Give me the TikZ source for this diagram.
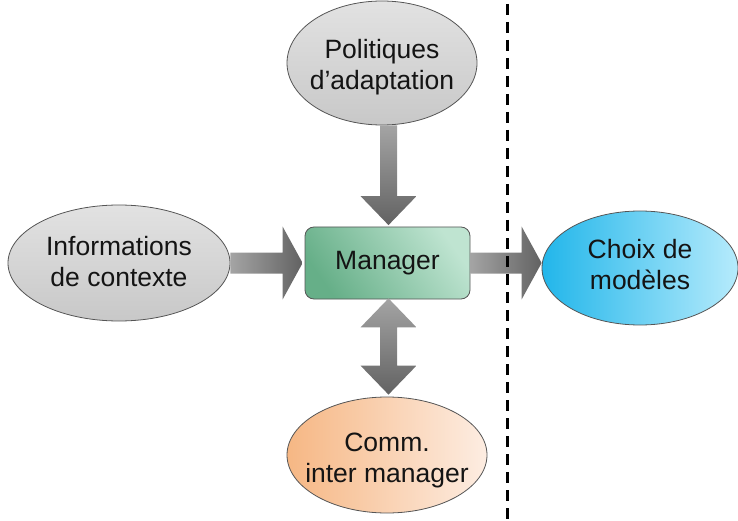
\documentclass[tikz,border=0pt]{standalone}
\usepackage{fontspec}
\setmainfont{Liberation Sans}
\usetikzlibrary{shapes.geometric,calc}
\definecolor{txt}{HTML}{141414}
\definecolor{edge}{HTML}{555555}
\definecolor{grayA}{HTML}{E2E2E2}
\definecolor{grayB}{HTML}{C8C8C8}
\definecolor{greenA}{HTML}{66AF88}
\definecolor{greenM}{HTML}{A8D6BE}
\definecolor{greenB}{HTML}{BFE4D1}
\definecolor{cyanA}{HTML}{22B6EA}
\definecolor{cyanB}{HTML}{B6EBFC}
\definecolor{orangeA}{HTML}{F6B784}
\definecolor{orangeB}{HTML}{FDEDE2}
\definecolor{arrA}{HTML}{A4A4A4}
\definecolor{arrB}{HTML}{626262}
\tikzset{
  ell/.style={ellipse, draw=edge, line width=0.8pt, inner sep=0pt},
  lbl/.style={font=\fontsize{26.5}{31}\selectfont, text=txt, align=center},
  mgrbox/.style={rectangle, rounded corners=9pt, draw=edge, line width=0.8pt,
    left color=greenA, middle color=greenM, right color=greenB, shading angle=125,
    font=\fontsize{26.5}{31}\selectfont, text=txt},
  harrow/.style={left color=arrA, right color=arrB},
  varrow/.style={top color=arrA, bottom color=arrB},
  sep/.style={dash pattern=on 11pt off 7pt, line width=3pt, black}
}
\begin{document}
\begin{tikzpicture}[x=1pt,y=-1pt]
\useasboundingbox (0,0) rectangle (738,521);

% nodes
\node[ell, top color=grayA, bottom color=grayB, minimum width=190pt, minimum height=124pt,
  label={[lbl, yshift=-4pt]center:{Politiques\\d'adaptation}}] (pol) at (382,63) {};
\node[ell, top color=grayA, bottom color=grayB, minimum width=222pt, minimum height=116pt,
  label={[lbl, yshift=1pt]center:{Informations\\de contexte}}] (info) at (119,263) {};
\node[mgrbox, minimum width=165pt, minimum height=72pt] (mgr) at (387.5,263) {Manager};
\node[ell, left color=cyanA, right color=cyanB, minimum width=196pt, minimum height=114pt,
  label={[lbl, yshift=3pt]center:{Choix de\\modèles}}] (choix) at (640,268) {};
\node[ell, left color=orangeA, right color=orangeB, minimum width=200pt, minimum height=116pt,
  label={[lbl, yshift=-5pt]center:{Comm.\\inter manager}}] (comm) at (387,455) {};

% left arrow: info -> mgr
\coordinate (la) at (info.east);
\coordinate (lb) at ($(mgr.west)+(-2,0)$);
\shade[harrow] ($(la)+(0,-10.5)$) -- ($(lb)+(-20,-10.5)$) -- ($(lb)+(-20,-36.5)$) -- (lb)
  -- ($(lb)+(-20,36.5)$) -- ($(lb)+(-20,10.5)$) -- ($(la)+(0,10.5)$) -- cycle;

% right arrow: mgr -> choix
\coordinate (ra) at (mgr.east);
\coordinate (rb) at (choix.west |- mgr.east);
\shade[harrow] ($(ra)+(0,-10.5)$) -- ($(rb)+(-20,-10.5)$) -- ($(rb)+(-20,-36.5)$) -- (rb)
  -- ($(rb)+(-20,36.5)$) -- ($(rb)+(-20,10.5)$) -- ($(ra)+(0,10.5)$) -- cycle;

% top arrow: pol -> mgr
\coordinate (ta) at ($(mgr.north |- pol.south)+(1,0)$);
\coordinate (tb) at ($(mgr.north)+(1,-1.5)$);
\shade[varrow] ($(ta)+(-8.5,0)$) -- ($(tb)+(-8.5,-29)$) -- ($(tb)+(-28,-29)$) -- (tb)
  -- ($(tb)+(28,-29)$) -- ($(tb)+(8.5,-29)$) -- ($(ta)+(8.5,0)$) -- cycle;

% double arrow: mgr <-> comm
\coordinate (da) at ($(mgr.south)+(1,-1)$);
\coordinate (db) at ($(comm.north)+(1.5,-2)$);
\shade[varrow] (da) -- ($(da)+(28,29)$) -- ($(da)+(8.5,29)$) -- ($(db)+(8.5,-29)$)
  -- ($(db)+(28,-29)$) -- (db) -- ($(db)+(-28,-29)$) -- ($(db)+(-8.5,-29)$)
  -- ($(da)+(-8.5,29)$) -- ($(da)+(-28,29)$) -- cycle;

% separator (drawn over the arrow)
\coordinate (sepT) at (507,4);
\coordinate (sepB) at (507,519);
\draw[sep] (sepT) -- (sepB);
\end{tikzpicture}
\end{document}
